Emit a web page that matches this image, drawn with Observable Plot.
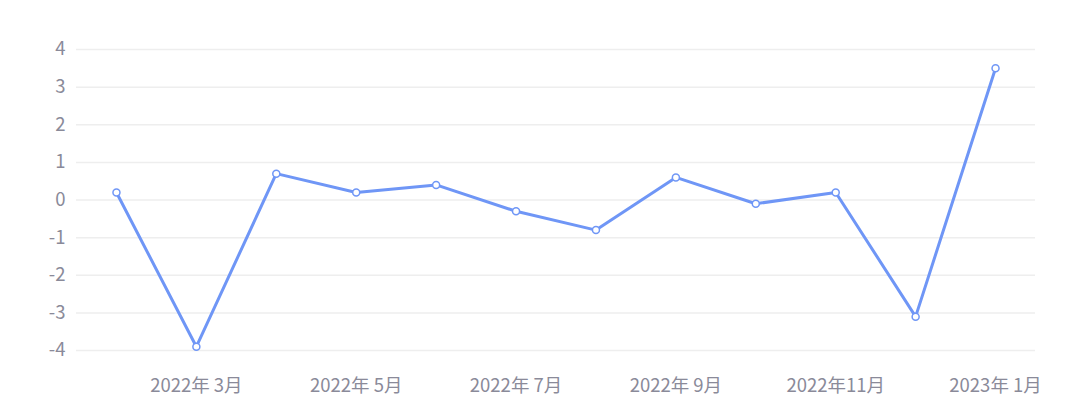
<!DOCTYPE html>
<html>
<head>
<meta charset="utf-8">
<script src="https://cdn.jsdelivr.net/npm/d3@7"></script>
<script src="https://cdn.jsdelivr.net/npm/@observablehq/plot@0.6"></script>
<style>
  html, body { margin: 0; padding: 0; background: #fff; }
  #chart svg { display: block; }
</style>
</head>
<body>
<div id="chart"></div>
<script>
const months = ["2022年 2月","2022年 3月","2022年 4月","2022年 5月","2022年 6月","2022年 7月","2022年 8月","2022年 9月","2022年10月","2022年11月","2022年12月","2023年 1月"];
const values = [0.2, -3.9, 0.7, 0.2, 0.4, -0.3, -0.8, 0.6, -0.1, 0.2, -3.1, 3.5];
const tickLabels = ["2022年 3月","2022年 5月","2022年 7月","2022年 9月","2022年11月","2023年 1月"];
const yTicks = [-4, -3, -2, -1, 0, 1, 2, 3, 4];

const data = months.map((m, i) => ({month: m, value: values[i]}));

const chart = Plot.plot({
  width: 1092,
  height: 409,
  marginLeft: 76,
  marginRight: 57,
  marginTop: 49,
  marginBottom: 59,
  style: {fontFamily: "'Noto Sans CJK SC', 'Noto Sans', sans-serif", fontSize: "18.5px", color: "#8a8a99", background: "#fff"},
  x: {type: "point", domain: months, padding: 0.5, round: false},
  y: {domain: [-4, 4]},
  marks: [
    Plot.gridY(yTicks, {stroke: "#eeeeee", strokeOpacity: 1, strokeWidth: 1.5}),
    Plot.axisY(yTicks, {tickSize: 0, tickPadding: 11, fontSize: 18.5, fill: "#8a8a99", tickFormat: d => String(d), label: null}),
    Plot.axisX(tickLabels, {tickSize: 0, tickPadding: 28, fontSize: 18.5, fill: "#8a8a99", label: null}),
    Plot.line(data, {x: "month", y: "value", stroke: "#6f96f6", strokeWidth: 3, curve: "linear"}),
    Plot.dot(data, {x: "month", y: "value", r: 3.5, fill: "#fff", stroke: "#6f96f6", strokeWidth: 1.5})
  ]
});
document.getElementById("chart").appendChild(chart);
</script>
</body>
</html>
